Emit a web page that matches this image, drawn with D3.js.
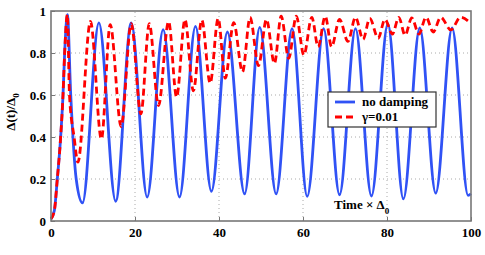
<!DOCTYPE html>
<html>
<head>
<meta charset="utf-8">
<script src="https://cdn.jsdelivr.net/npm/d3@7"></script>
<style>
  body { margin: 0; background: #fff; }
  text { font-family: "Liberation Serif", "Times New Roman", serif; font-weight: bold; }
</style>
</head>
<body>
<div id="chart"></div>
<script>
// values
var xTicks = [0, 20, 40, 60, 80, 100];
var yTicks = [0, 0.2, 0.4, 0.6, 0.8, 1];
var yTickLabels = ['0', '0.2', '0.4', '0.6', '0.8', '1'];

// no damping: [time, delta]
var noDamping = [
  [0, 0.01], [0.8, 0.05], [1.5, 0.2], [2.3, 0.4], [2.86, 0.6], [3.25, 0.8], [3.9, 0.983],
  [4.7, 0.6], [6.0, 0.2], [7.5, 0.086], [11.4, 0.943], [15.4, 0.094], [19.1, 0.943],
  [22.9, 0.114], [26.7, 0.911], [30.6, 0.114], [34.4, 0.927], [38.2, 0.141], [42.0, 0.90],
  [46.1, 0.129], [49.7, 0.922], [53.6, 0.129], [57.4, 0.916], [61.0, 0.117], [64.9, 0.916],
  [68.7, 0.125], [72.5, 0.916], [76.3, 0.119], [80.2, 0.938], [83.9, 0.105], [87.8, 0.919],
  [91.6, 0.133], [95.5, 0.919], [99.3, 0.122], [100, 0.13]
];

// gamma = 0.01
var damped = [
  [0, 0.01], [0.8, 0.05], [1.5, 0.2], [2.3, 0.4], [2.86, 0.6], [3.25, 0.8], [3.9, 0.983],
  [4.4, 0.6], [5.5, 0.4], [6.4, 0.28], [9.4, 0.95], [12.0, 0.39], [14.1, 0.935],
  [16.7, 0.45], [19.1, 0.94], [21.4, 0.51], [23.4, 0.94], [25.6, 0.55], [28.0, 0.95],
  [29.9, 0.59], [31.9, 0.96], [33.9, 0.62], [35.9, 0.957], [37.9, 0.656], [39.8, 0.965],
  [41.5, 0.68], [43.5, 0.945], [45.6, 0.71], [47.4, 0.97], [49.4, 0.74], [51.3, 0.96],
  [53.2, 0.75], [54.8, 0.975], [56.6, 0.775], [58.4, 0.975], [60.2, 0.79], [62.1, 0.97],
  [63.6, 0.83], [65.3, 0.975], [66.8, 0.83], [68.7, 0.96], [70.7, 0.855], [72.5, 0.97],
  [74.3, 0.865], [75.9, 0.965], [77.9, 0.87], [79.5, 0.96], [81.3, 0.89], [82.8, 0.97],
  [84.3, 0.885], [85.9, 0.967], [87.6, 0.89], [89.3, 0.97], [91.0, 0.90], [92.8, 0.97],
  [95.2, 0.91], [97.5, 0.97], [100, 0.94]
];

var seriesNames = ['no damping', '\u03b3=0.01'];

var width = 485, height = 255;
var margin = {top: 11, right: 14, bottom: 34, left: 51};

var svg = d3.select('#chart')
  .append('svg')
  .attr('width', width)
  .attr('height', height);

var x = d3.scaleLinear().domain([0, 100]).range([margin.left, width - margin.right]);
var y = d3.scaleLinear().domain([0, 1]).range([height - margin.bottom, margin.top]);

// grid
var grid = svg.append('g');
grid.selectAll('.gx')
  .data(xTicks.slice(1, -1))
  .enter().append('line')
  .attr('x1', d => x(d)).attr('x2', d => x(d))
  .attr('y1', y(0)).attr('y2', y(1))
  .attr('stroke', '#aaa').attr('stroke-width', 1)
  .attr('stroke-dasharray', '1,3');
grid.selectAll('.gy')
  .data(yTicks.slice(1, -1))
  .enter().append('line')
  .attr('x1', x(0)).attr('x2', x(100))
  .attr('y1', d => y(d)).attr('y2', d => y(d))
  .attr('stroke', '#aaa').attr('stroke-width', 1)
  .attr('stroke-dasharray', '1,3');

// axes (ticks point inward)
var xAxis = d3.axisBottom(x).tickValues(xTicks).tickSize(-4).tickPadding(7);
var yAxis = d3.axisLeft(y).tickValues(yTicks).tickSize(-4).tickPadding(5)
  .tickFormat((d, i) => yTickLabels[i]);

var gx = svg.append('g')
  .attr('transform', 'translate(0,' + y(0) + ')')
  .call(xAxis);
var gy = svg.append('g')
  .attr('transform', 'translate(' + x(0) + ',0)')
  .call(yAxis);

[gx, gy].forEach(function(g){
  g.select('.domain').remove();
  g.selectAll('.tick line').attr('stroke', '#777');
  g.selectAll('.tick text')
    .attr('fill', '#000')
    .style('font-size', '13px')
    .style('font-family', '"Liberation Serif", serif')
    .style('font-weight', 'bold');
});

// lines
var line = d3.line()
  .x(d => x(d[0]))
  .y(d => y(d[1]))
  .curve(d3.curveMonotoneX);

svg.append('path')
  .datum(noDamping)
  .attr('d', line)
  .attr('fill', 'none')
  .attr('stroke', '#3052f5')
  .attr('stroke-width', 2.8);

svg.append('path')
  .datum(damped)
  .attr('d', line)
  .attr('fill', 'none')
  .attr('stroke', '#ff0000')
  .attr('stroke-width', 2.8)
  .attr('stroke-dasharray', '7,4');

// frame
svg.append('rect')
  .attr('x', x(0)).attr('y', y(1))
  .attr('width', x(100) - x(0))
  .attr('height', y(0) - y(1))
  .attr('fill', 'none')
  .attr('stroke', '#777')
  .attr('stroke-width', 1.6);

// axis labels
svg.append('text')
  .attr('transform', 'translate(15,112) rotate(-90)')
  .attr('text-anchor', 'middle')
  .style('font-size', '13px')
  .html('\u0394(t)/\u0394<tspan dy="4" font-size="9px">0</tspan>');

svg.append('text')
  .attr('x', 334).attr('y', 209)
  .style('font-size', '13px')
  .html('Time \u00d7 \u0394<tspan dy="5" font-size="9px">0</tspan>');

// legend
var legend = svg.append('g').attr('transform', 'translate(328,92)');
legend.append('rect')
  .attr('width', 108).attr('height', 35)
  .attr('fill', '#fff')
  .attr('stroke', '#333')
  .attr('stroke-width', 1.2);

var rows = [
  {name: seriesNames[0], color: '#3052f5', dash: null},
  {name: seriesNames[1], color: '#ff0000', dash: '7,4'}
];
rows.forEach(function(r, i){
  var yy = 10 + i * 15;
  legend.append('line')
    .attr('x1', 7).attr('x2', 27)
    .attr('y1', yy).attr('y2', yy)
    .attr('stroke', r.color)
    .attr('stroke-width', 2.8)
    .attr('stroke-dasharray', r.dash);
  legend.append('text')
    .attr('x', 34).attr('y', yy + 4)
    .style('font-size', '13px')
    .text(r.name);
});
</script>
</body>
</html>
